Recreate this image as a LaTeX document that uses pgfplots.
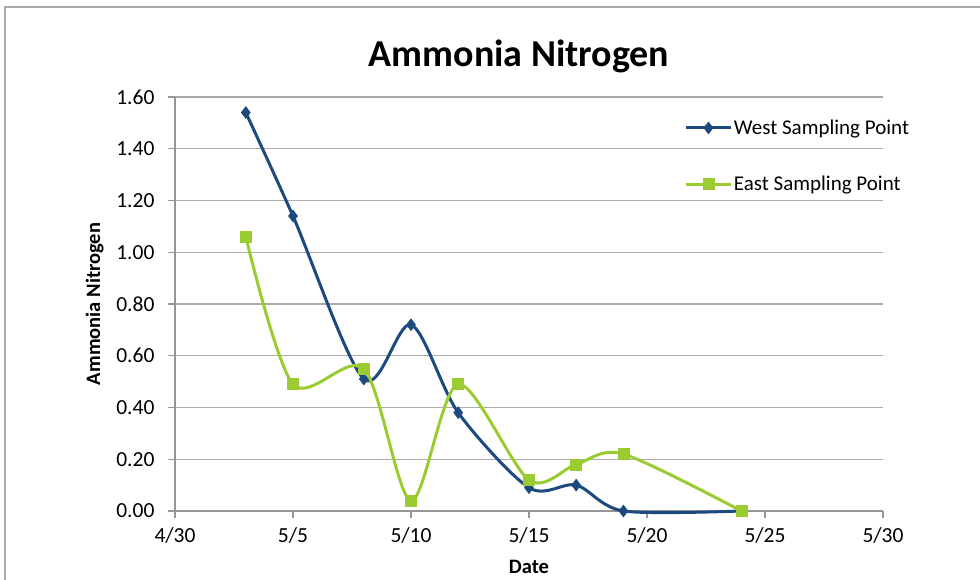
\documentclass[border=0pt]{standalone}
\usepackage{fontspec}
\setmainfont{Carlito}
\usepackage{pgfplots}
\pgfplotsset{compat=1.18}
\definecolor{westc}{RGB}{28,74,126}
\definecolor{eastc}{RGB}{154,204,50}
\definecolor{gridc}{RGB}{170,170,170}
\definecolor{axc}{RGB}{150,150,150}
\begin{document}
\begin{tikzpicture}
\useasboundingbox (0pt,0pt) rectangle (980pt,580pt);
\draw[color=gridc,line width=1.2pt] (5pt,0pt) -- (5pt,573pt) -- (980pt,573pt);
\node[font=\fontsize{38}{42}\selectfont\bfseries] at (519pt,524pt) {Ammonia Nitrogen};
\begin{axis}[
  at={(175pt,69pt)}, anchor=south west,
  scale only axis, width=708pt, height=414pt,
  xmin=0, xmax=30, ymin=0, ymax=1.6,
  xtick={0,5,10,15,20,25,30},
  xticklabels={4/30,5/5,5/10,5/15,5/20,5/25,5/30},
  ytick={0,0.2,0.4,0.6,0.8,1.0,1.2,1.4,1.6},
  yticklabel style={xshift=-10pt,/pgf/number format/.cd,fixed,fixed zerofill,precision=2},
  /pgf/number format/assume math mode=true,
  ticklabel style={font=\fontsize{21.5}{24}\selectfont},
  xticklabel style={yshift=-6pt},
  axis x line*=bottom, axis y line*=left,
  axis line style={color=axc,line width=1.2pt},
  every tick/.style={color=axc,line width=1.2pt},
  tick align=outside, major tick length=7pt,
  ymajorgrids, grid style={color=gridc,line width=1.2pt},
  xlabel={\bfseries Date}, ylabel={\bfseries Ammonia Nitrogen},
  label style={font=\fontsize{20.5}{24}\selectfont},
  xlabel style={yshift=-10pt},
  ylabel style={yshift=6pt},
  clip=false,
  legend style={draw=none, fill=none, at={(0.72,0.95)}, anchor=north west,
    font=\fontsize{21}{24}\selectfont, row sep=36pt, inner sep=0pt},
  legend cell align=left,
  legend image code/.code={\draw[mark repeat=2,mark phase=2,#1] plot coordinates {(0pt,0pt) (22pt,0pt) (44pt,0pt)};},
]
\addplot[color=westc, line width=3pt, smooth, tension=0.5, mark=diamond*, mark size=6pt, mark options={solid,line width=0.5pt}]
  coordinates {(3,1.54) (5,1.14) (8,0.51) (10,0.72) (12,0.38) (15,0.09) (17,0.10) (19,0.00) (24,0.00)};
\addlegendentry{West Sampling Point}
\addplot[color=eastc, line width=3pt, smooth, tension=0.5, mark=square*, mark size=5.5pt, mark options={solid,line width=0.5pt}]
  coordinates {(3,1.06) (5,0.49) (8,0.55) (10,0.04) (12,0.49) (15,0.12) (17,0.18) (19,0.22) (24,0.00)};
\addlegendentry{East Sampling Point}
\end{axis}
\end{tikzpicture}
\end{document}
